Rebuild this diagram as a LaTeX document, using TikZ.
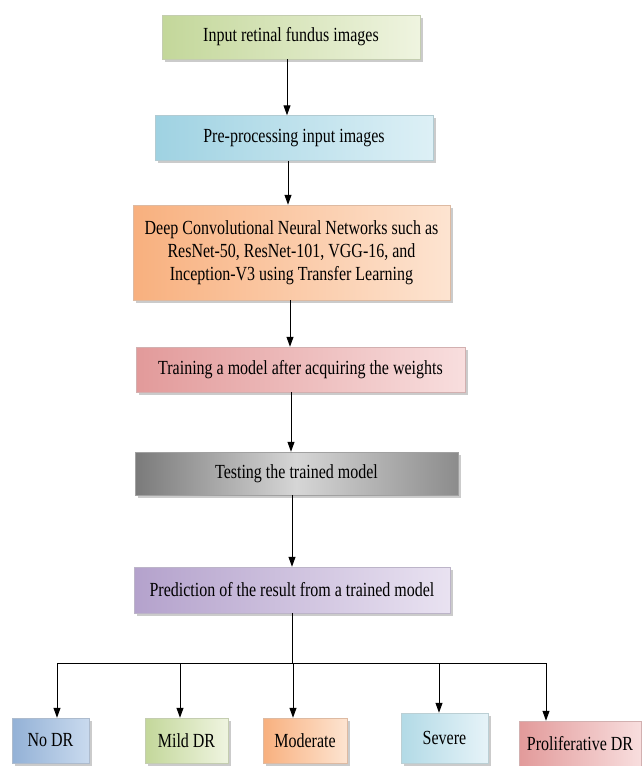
\documentclass[tikz,border=0pt]{standalone}
\usepackage{fontspec}
\setmainfont{Liberation Serif}
\newfontfamily\boxfont[FakeStretch=0.8]{Liberation Serif}
\usetikzlibrary{arrows.meta,shadows,positioning,calc}

% fill colours of the boxes
\definecolor{grnL}{HTML}{C3D79A}\definecolor{grnR}{HTML}{EFF4E0}
\definecolor{bluL}{HTML}{9FD2E2}\definecolor{bluR}{HTML}{DDF0F6}
\definecolor{orgL}{HTML}{F8B07E}\definecolor{orgR}{HTML}{FDE4D1}
\definecolor{redL}{HTML}{E29A9A}\definecolor{redR}{HTML}{F8DEDE}
\definecolor{gryL}{HTML}{7A7A7A}\definecolor{gryM}{HTML}{D6D6D6}\definecolor{gryR}{HTML}{8C8C8C}
\definecolor{purL}{HTML}{B4A2CC}\definecolor{purR}{HTML}{E9E2F1}
\definecolor{ndrL}{HTML}{93B1D6}\definecolor{ndrR}{HTML}{C9DAEE}
\definecolor{sevL}{HTML}{B2DAE6}\definecolor{sevR}{HTML}{E6F3F8}

\tikzset{
  stepbox/.style={draw=#1, line width=0.5pt, align=center, inner sep=2pt,
    font=\boxfont\fontsize{20}{23}\selectfont,
    drop shadow={shadow xshift=2.5pt,shadow yshift=-2.5pt,fill=black!45,opacity=0.45}},
  arr/.style={line width=1pt, -{Triangle[width=7pt,length=10pt]}},
  link/.style={line width=1pt}
}

\begin{document}
\begin{tikzpicture}[x=1pt,y=-1pt]
\useasboundingbox (0,0) rectangle (641,766);

% main pipeline
\node[stepbox=grnL!80!black!60, left color=grnL, right color=grnR,
      minimum width=258pt, minimum height=44pt] (b1) at (291,37) {Input retinal fundus images};
\node[stepbox=bluL!80!black!60, left color=bluL, right color=bluR,
      minimum width=278pt, minimum height=45pt] (b2) at (294,138) {Pre-processing input images};
\node[stepbox=orgL!80!black!60, left color=orgL, right color=orgR,
      minimum width=317pt, minimum height=95pt] (b3) at (291.5,252.5)
      {Deep Convolutional Neural Networks such as\\ResNet-50, ResNet-101, VGG-16, and\\Inception-V3 using Transfer Learning};
\node[stepbox=redL!80!black!60, left color=redL, right color=redR,
      minimum width=329pt, minimum height=45pt] (b4) at (300.5,369.5) {Training a model after acquiring the weights};
\node[stepbox=gryL!80!black!60, left color=gryL, right color=gryR, middle color=gryM,
      minimum width=323pt, minimum height=43pt] (b5) at (296.5,473.5) {Testing the trained model};
\node[stepbox=purL!80!black!60, left color=purL, right color=purR,
      minimum width=316pt, minimum height=46pt] (b6) at (292,590) {Prediction of the result from a trained model};

% output classes
\node[stepbox=ndrL!80!black!60, left color=ndrL, right color=ndrR,
      minimum width=77pt, minimum height=45pt] (o1) at (50.5,740.5) {No DR};
\node[stepbox=grnL!80!black!60, left color=grnL, right color=grnR,
      minimum width=83pt, minimum height=45pt] (o2) at (186.5,740.5) {Mild DR};
\node[stepbox=orgL!80!black!60, left color=orgL, right color=orgR,
      minimum width=84pt, minimum height=45pt] (o3) at (305,740.5) {Moderate};
\node[stepbox=sevL!80!black!60, left color=sevL, right color=sevR,
      minimum width=87pt, minimum height=50pt] (o4) at (444.5,738) {Severe};
\node[stepbox=redL!80!black!60, left color=redL, right color=redR,
      minimum width=122pt, minimum height=45pt] (o5) at (580,743.5) {Proliferative DR};

% pipeline arrows
\draw[arr] ([xshift=-4pt]b1.south) -- ([xshift=-4pt]b1.south |- b2.north);
\draw[arr] ([xshift=-6pt]b2.south) -- ([xshift=-6pt]b2.south |- b3.north);
\draw[arr] ([xshift=-1.5pt]b3.south) -- ([xshift=-1.5pt]b3.south |- b4.north);
\draw[arr] ([xshift=-9.5pt]b4.south) -- ([xshift=-9.5pt]b4.south |- b5.north);
\draw[arr] ([xshift=-4.5pt]b5.south) -- ([xshift=-4.5pt]b5.south |- b6.north);

% branching to the classes
\coordinate (hub) at (292,663);
\coordinate (d1) at (57,663);
\coordinate (d2) at (180,663);
\coordinate (d3) at (293,663);
\coordinate (d4) at (439,663);
\coordinate (d5) at (546,663);
\draw[link] (b6.south) -- (hub);
\draw[link] (d1) -- (d5);
\draw[arr] (d1) -- (d1 |- o1.north);
\draw[arr] (d2) -- (d2 |- o2.north);
\draw[arr] (d3) -- (d3 |- o3.north);
\draw[arr] (d4) -- (d4 |- o4.north);
\draw[arr] (d5) -- (d5 |- o5.north);
\end{tikzpicture}
\end{document}
